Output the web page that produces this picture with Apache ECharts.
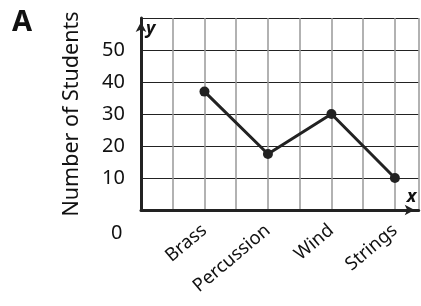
<!DOCTYPE html>
<html>
<head>
<meta charset="utf-8">
<script src="https://cdn.jsdelivr.net/npm/echarts@6/dist/echarts.min.js"></script>
<style>
html,body{margin:0;padding:0;background:#fff;}
#chart{width:421px;height:306px;}
</style>
</head>
<body>
<div id="chart"></div>
<script>
var categories = ['Brass', 'Percussion', 'Wind', 'Strings'];
var values = [37, 17.5, 30, 10];
var yTicks = [10, 20, 30, 40, 50];
var yTitle = 'Number of Students';
var panelLetter = 'A';

var FONT = '"Noto Sans", "Open Sans", sans-serif';
var chart = echarts.init(document.getElementById('chart'), null, {renderer: 'canvas'});
var pts = values.map(function (v, i) { return [(i + 1) * 2, v]; });

chart.setOption({
  animation: false,
  grid: {left: 141, top: 18, right: 0, bottom: 96, containLabel: false},
  xAxis: {
    type: 'value', min: 0, max: 8.75, interval: 1,
    axisLine: {show: true, lineStyle: {color: '#222', width: 3},
      symbol: ['none', 'arrow'], symbolSize: [8, 10], symbolOffset: [0, -4]},
    axisTick: {show: false},
    splitLine: {show: true, lineStyle: {color: '#999', width: 1.5}},
    axisLabel: {
      rotate: 40, margin: 18, fontSize: 18.5, fontFamily: FONT, color: '#111',
      formatter: function (v) {
        if (v > 0 && v % 2 === 0) { return categories[v / 2 - 1] || ''; }
        return '';
      }
    },
    name: 'x', nameLocation: 'end', nameGap: -12,
    nameTextStyle: {fontSize: 18, fontWeight: 'bold', fontStyle: 'italic', fontFamily: FONT, color: '#111',
      verticalAlign: 'bottom', padding: [0, 0, 4, 0]}
  },
  yAxis: {
    type: 'value', min: 0, max: 60, interval: 10,
    axisLine: {show: true, lineStyle: {color: '#222', width: 3},
      symbol: ['none', 'arrow'], symbolSize: [8, 10], symbolOffset: [0, -4]},
    axisTick: {show: false},
    splitLine: {show: true, lineStyle: {color: '#222', width: 1.2}},
    axisLabel: {
      margin: 16, fontSize: 20, fontFamily: FONT, color: '#111',
      formatter: function (v) { return yTicks.indexOf(v) >= 0 ? String(v) : ''; }
    },
    name: yTitle, nameLocation: 'middle', nameGap: 58,
    nameTextStyle: {fontSize: 21.5, fontFamily: FONT, color: '#111'}
  },
  graphic: [
    {type: 'text', left: 12, top: 8, style: {text: panelLetter, fontSize: 29, fontWeight: 'bold', fontFamily: FONT, fill: '#111'}},
    {type: 'text', left: 146, top: 20, style: {text: 'y', fontSize: 18, fontWeight: 'bold', fontStyle: 'italic', fontFamily: FONT, fill: '#111'}},
    {type: 'text', left: 111, top: 223, style: {text: '0', fontSize: 20, fontFamily: FONT, fill: '#111'}}
  ],
  series: [{
    type: 'line',
    data: pts,
    symbol: 'circle', symbolSize: 10,
    lineStyle: {color: '#222', width: 3},
    itemStyle: {color: '#222'}
  }]
});
</script>
</body>
</html>
